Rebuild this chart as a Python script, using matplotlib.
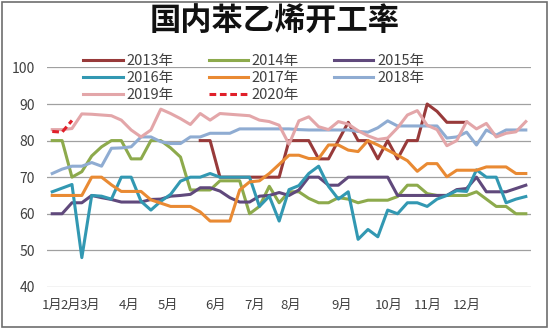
import numpy as np
import matplotlib.pyplot as plt
from matplotlib.patches import Rectangle

plt.rcParams['font.family'] = ['Noto Sans CJK SC', 'DejaVu Sans']

# 周度开工率(%)，每年49个观测点
month_labels = ['1月', '2月', '3月', '4月', '5月', '6月', '7月', '8月', '9月', '10月', '11月', '12月']
month_pos = [0, 1.9, 3.8, 7.8, 11.7, 16.6, 20.5, 24.2, 29.3, 34.1, 38.1, 42]

y2013_start = 15
y2013 = [80, 80, 70, 70, 70, 70, 70, 70, 70, 80, 80, 80, 75, 75, 80, 85, 80, 80,
         75, 80, 75, 80, 80, 90, 88, 85, 85, 85]
y2014 = [80, 80, 70, 71.5, 75.8, 78.3, 80, 80, 75, 75, 80, 80, 78, 75.5, 66.5, 66.5,
         66.5, 69, 69, 69, 60, 62, 67.5, 63, 66, 66, 64.2, 63, 63, 64.4, 64, 63, 63.7,
         63.7, 63.7, 64.7, 67.8, 67.8, 65.5, 65, 65, 65, 65, 66, 64, 62, 62, 60, 60]
y2015 = [60, 60, 63, 63, 65, 64.4, 63.9, 63.2, 63.2, 63.2, 63.9, 64, 64.8, 65, 65.3,
         67.1, 67.1, 66.2, 64.4, 63.2, 63.2, 64.8, 65, 65.8, 65, 66.5, 70, 70, 67.8,
         67.8, 70, 70, 70, 70, 70, 65, 65, 65, 65, 65, 65, 66.6, 66.9, 70, 66, 66, 66,
         66.9, 67.8]
y2016 = [66, 67, 68, 48, 65, 64.8, 64, 70, 70, 63.4, 61, 63.4, 65.3, 68.9, 70, 70, 71,
         70, 70, 70, 70, 62, 64.8, 58, 66.6, 67.7, 71, 73, 67.5, 64, 66, 53, 55.7, 53.7,
         61, 60, 63, 63, 62, 64, 65, 66.3, 66.1, 72, 70, 70, 63, 64, 64.7]
y2017 = [65, 65, 65, 65, 70, 70, 67.9, 66.1, 66.1, 66.1, 63.8, 62.9, 62, 62, 62, 60.5,
         58, 58, 58, 66.5, 68.7, 69, 71, 73.5, 76, 76, 75.1, 75.1, 78.8, 78.8, 77.4, 77,
         80, 78.8, 77.4, 76, 74.5, 71.6, 73.7, 73.7, 70.1, 71.9, 71.9, 71.9, 72.8, 72.8,
         72.8, 71, 71]
y2018 = [71, 72.2, 73, 73, 74, 73, 77.9, 78, 78.3, 81, 81, 79.7, 79.2, 79.2, 81, 81, 82,
         82, 82, 83.2, 83.2, 83.2, 83.2, 83.2, 83.2, 83, 82.9, 82.9, 82.9, 82.9, 82.9,
         82.5, 82.3, 83.5, 85.4, 84, 84, 84, 84, 84, 80.7, 81, 82.3, 78.8, 82.9, 81.5,
         82.9, 82.9, 82.9]
y2019 = [83, 83, 83.3, 87.3, 87.2, 87, 86.8, 85.6, 82.9, 81, 82.9, 88.6, 87.4, 86, 84.4,
         87.4, 85.6, 87.4, 87.2, 87, 86.8, 85.6, 85.2, 84.2, 79, 85.4, 86.5, 83.8, 83,
         85.2, 84.5, 82.7, 81.3, 80.3, 80.7, 83.5, 87, 88.2, 84.2, 83, 78.6, 80, 85.2,
         83.2, 84.7, 81, 82, 82.4, 85.2]
y2020 = [82.5, 82.3, 85.5]

colors = {
    '2013年': '#983A3A', '2014年': '#8DAA4C', '2015年': '#60497C', '2016年': '#3298B2',
    '2017年': '#E98A33', '2018年': '#8FACD2', '2019年': '#E3A6A9', '2020年': '#E0202A',
}

fig = plt.figure(figsize=(5.5, 3.29), dpi=100)
ax = fig.add_axes([0.086, 0.128, 0.879, 0.667])

lines = {}
lines['2013年'], = ax.plot(np.arange(len(y2013)) + y2013_start, y2013, color=colors['2013年'], lw=2.2)
for name, vals in [('2014年', y2014), ('2015年', y2015), ('2016年', y2016),
                   ('2017年', y2017), ('2018年', y2018), ('2019年', y2019)]:
    lines[name], = ax.plot(np.arange(len(vals)), vals, color=colors[name], lw=2.2)
lines['2020年'], = ax.plot(np.arange(len(y2020)), y2020, color=colors['2020年'], lw=2.2,
                          dashes=(2.2, 1.2))

ax.set_xlim(-0.5, len(y2014) - 0.5)
ax.set_ylim(40, 100)
ax.set_yticks(range(40, 101, 10))
ax.set_xticks(month_pos)
ax.set_xticklabels(month_labels)
ax.tick_params(length=0, labelsize=9.5, colors='#404040')
ax.tick_params(axis='x', pad=9)
ax.tick_params(axis='y', pad=9, labelsize=10)
ax.grid(axis='y', color='#A0A0A0', lw=0.9)
ax.set_axisbelow(True)
for s in ax.spines.values():
    s.set_visible(False)

# 图例按行排列：2013/2014/2015，2016/2017/2018，2019/2020
order = ['2013年', '2016年', '2019年', '2014年', '2017年', '2020年', '2015年', '2018年']
fig.legend([lines[k] for k in order], order, ncol=3, loc='upper left',
           bbox_to_anchor=(76 / 550, 1 - 47 / 329), frameon=False, fontsize=10.5,
           handlelength=2.7, handletextpad=0.25, columnspacing=2.4, labelspacing=0.2,
           borderpad=0, labelcolor='#404040')

fig.text(0.5, 0.933, '国内苯乙烯开工率', ha='center', va='center', fontsize=22.5,
         fontweight='bold', color='#111111')

fig.patches.append(Rectangle((0.003, 0.006), 0.992, 0.988, transform=fig.transFigure,
                             fill=False, edgecolor='#6E6E6E', lw=1.2))

fig.savefig('out.png', dpi=100)
